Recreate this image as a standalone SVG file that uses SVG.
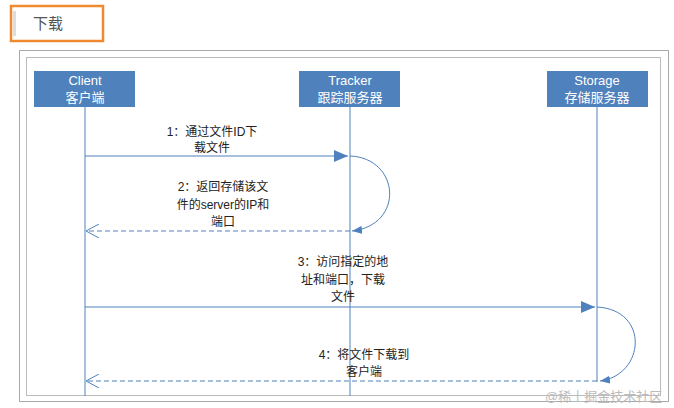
<svg xmlns="http://www.w3.org/2000/svg" width="674" height="408" viewBox="0 0 674 408">
<style>
text{font-family:"Liberation Sans","Noto Sans CJK SC",sans-serif}
.n{fill:#4f81bd}
.nt{fill:#fff;font-size:13px;text-anchor:middle}
.l{font-size:12px;fill:#222;text-anchor:middle}
.ln{stroke:#4f81bd;stroke-width:1;fill:none}
</style>
<defs>
<marker id="fa" markerWidth="14" markerHeight="12" refX="14" refY="6" orient="auto" markerUnits="userSpaceOnUse"><path d="M0,0L14,6L0,12z" fill="#4f81bd"/></marker>
<marker id="oa" markerWidth="14" markerHeight="14" refX="13" refY="7" orient="auto" markerUnits="userSpaceOnUse"><path d="M0,0L13,7L0,14" fill="none" stroke="#4f81bd"/></marker>
<marker id="sa" markerWidth="10" markerHeight="8" refX="10" refY="4" orient="auto" markerUnits="userSpaceOnUse"><path d="M0,0L10,4L0,8z" fill="#4f81bd"/></marker>
</defs>
<rect width="674" height="408" fill="#fff"/>
<rect x="11" y="6" width="92" height="35" fill="#fff" stroke="#f08a30" stroke-width="2.5"/>
<rect x="13" y="11" width="3" height="25" fill="#ddd"/>
<text x="33" y="29" font-size="15" fill="#555">下载</text>
<rect x="19.5" y="50.5" width="649" height="351" fill="none" stroke="#aaa"/>
<rect x="26.5" y="57.5" width="634" height="338" fill="none" stroke="#bbb"/>
<g id="client"><rect class="n" x="34" y="71" width="101" height="36"/><text class="nt" x="85" y="85">Client</text><text class="nt" x="85" y="102">客户端</text></g>
<g id="tracker"><rect class="n" x="299" y="71" width="101" height="36"/><text class="nt" x="350" y="85">Tracker</text><text class="nt" x="350" y="102">跟踪服务器</text></g>
<g id="storage"><rect class="n" x="547" y="71" width="101" height="36"/><text class="nt" x="597" y="85">Storage</text><text class="nt" x="597" y="102">存储服务器</text></g>
<g id="connectors">
<line class="ln" x1="85" y1="107" x2="85" y2="396"/>
<line class="ln" x1="350" y1="107" x2="350" y2="396"/>
<line class="ln" x1="597" y1="107" x2="597" y2="382"/>
<line class="ln" x1="85" y1="156" x2="348" y2="156" marker-end="url(#fa)"/>
<path class="ln" d="M350,156 C400,158 405,225 352,231" marker-end="url(#sa)"/>
<line class="ln" x1="350" y1="231" x2="86" y2="231" stroke-dasharray="5,3" marker-end="url(#oa)"/>
<line class="ln" x1="85" y1="307" x2="595" y2="307" marker-end="url(#fa)"/>
<path class="ln" d="M597,307 C650,310 645,375 600,381" marker-end="url(#sa)"/>
<line class="ln" x1="597" y1="381" x2="86" y2="381" stroke-dasharray="5,3" marker-end="url(#oa)"/>
</g>
<text class="l" x="212" y="136">1：通过文件ID下</text>
<text class="l" x="212" y="152">载文件</text>
<text class="l" x="223" y="191">2：返回存储该文</text>
<text class="l" x="223" y="209">件的server的IP和</text>
<text class="l" x="223" y="226">端口</text>
<text class="l" x="343" y="266">3：访问指定的地</text>
<text class="l" x="343" y="284">址和端口，下载</text>
<text class="l" x="343" y="301">文件</text>
<text class="l" x="364" y="359">4：将文件下载到</text>
<text class="l" x="364" y="376">客户端</text>
<text x="545" y="401" font-size="13" fill="#bbb">@稀土掘金技术社区</text>
</svg>
